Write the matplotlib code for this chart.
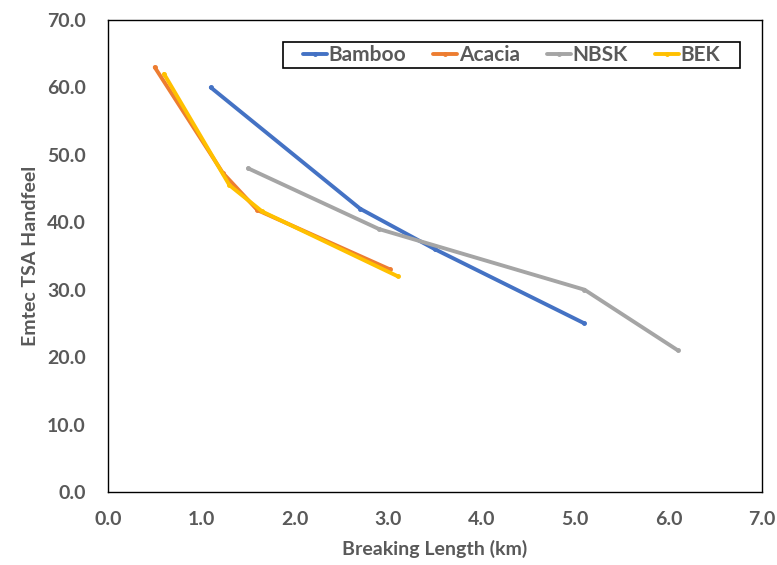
import matplotlib
matplotlib.use("Agg")
import matplotlib.pyplot as plt
from matplotlib.patches import Rectangle

plt.rcParams['font.family'] = ['Lato', 'DejaVu Sans']

bamboo_x = [1.1, 2.7, 3.5, 5.1]
bamboo_y = [60, 42, 36, 25]
acacia_x = [0.5, 1.23, 1.6, 3.02]
acacia_y = [63, 47.3, 41.8, 33]
nbsk_x = [1.5, 2.9, 5.1, 6.1]
nbsk_y = [48, 39, 30, 21]
bek_x = [0.6, 1.3, 1.65, 3.1]
bek_y = [62, 45.5, 41.6, 32]

x_ticks = [0, 1, 2, 3, 4, 5, 6, 7]
y_ticks = [0, 10, 20, 30, 40, 50, 60, 70]

fig = plt.figure(figsize=(7.77, 5.65), dpi=100)
ax = fig.add_axes([108/777, 1 - 492/565, (762-108)/777, (492-20)/565])

series = [
    ("Bamboo", bamboo_x, bamboo_y, "#4472C4"),
    ("Acacia", acacia_x, acacia_y, "#ED7D31"),
    ("NBSK", nbsk_x, nbsk_y, "#A5A5A5"),
    ("BEK", bek_x, bek_y, "#FFC000"),
]
for name, xs, ys, c in series:
    ax.plot(xs, ys, color=c, lw=2.8, marker='o', ms=2.5, label=name,
            solid_capstyle='round', solid_joinstyle='round')

ax.set_xlim(0, 7)
ax.set_ylim(0, 70)
ax.set_xticks(x_ticks)
ax.set_yticks(y_ticks)
ax.set_xticklabels([f"{v:.1f}" for v in x_ticks])
ax.set_yticklabels([f"{v:.1f}" for v in y_ticks])
gray = "#595959"
ax.tick_params(axis='x', length=0, labelsize=14, labelcolor=gray, pad=14)
ax.tick_params(axis='y', length=0, labelsize=14, labelcolor=gray, pad=16)
for lab in ax.get_xticklabels() + ax.get_yticklabels():
    lab.set_fontweight('bold')
for s in ax.spines.values():
    s.set_color('black')
    s.set_linewidth(1.0)

ax.set_xlabel("Breaking Length (km)", fontsize=14, fontweight='bold', color=gray, labelpad=8)
ax.set_ylabel("Emtec TSA Handfeel", fontsize=14, fontweight='bold', color=gray, labelpad=6)

# legend box (in axes fraction)
bx0, bw = (283 - 108) / 654, (740 - 283) / 654
by0, bh = (492 - 68) / 472, (68 - 42) / 472
ax.add_patch(Rectangle((bx0, by0), bw, bh, transform=ax.transAxes,
                       fill=True, facecolor='white', edgecolor='black',
                       lw=1.2, zorder=4))
leg = ax.legend(ncol=4, loc='center', bbox_to_anchor=(bx0 + bw / 2, by0 + bh / 2),
                frameon=False, handlelength=1.15,
                handletextpad=0.08, columnspacing=1.3, borderpad=0.0,
                prop={'weight': 'bold', 'size': 15})
leg.set_zorder(5)
for t in leg.get_texts():
    t.set_color(gray)

fig.savefig("out.png", dpi=100)
